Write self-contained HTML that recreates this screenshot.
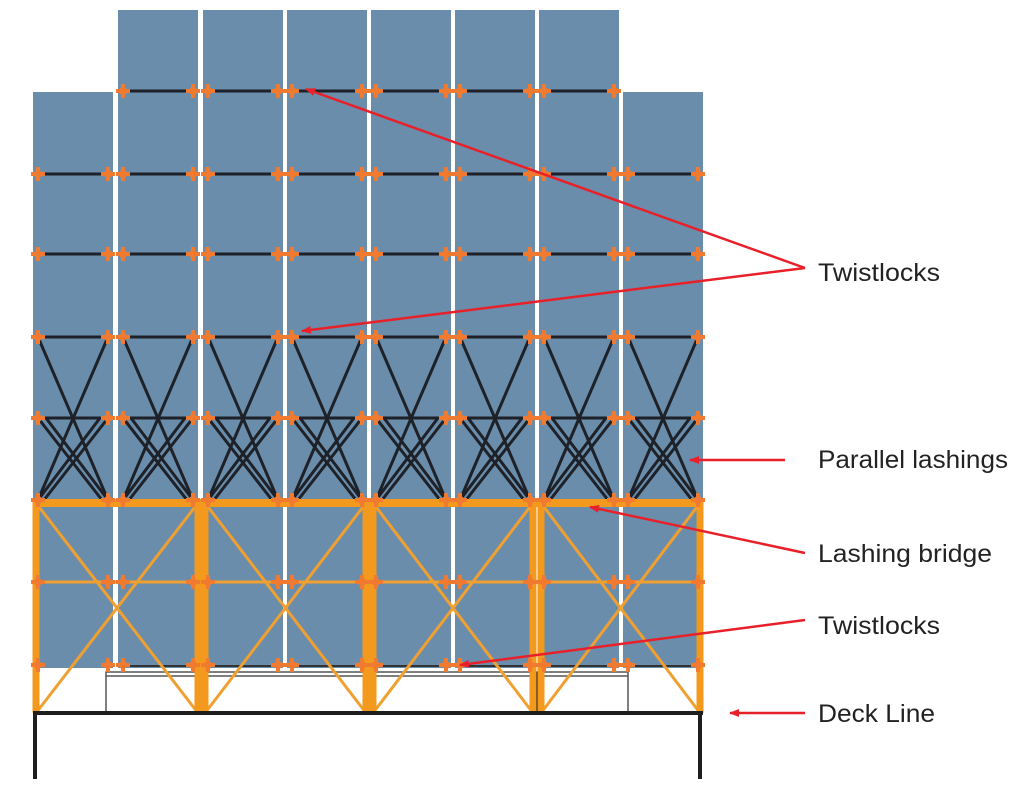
<!DOCTYPE html>
<html><head><meta charset="utf-8"><style>
html,body{margin:0;padding:0;background:#fff;width:1024px;height:789px;overflow:hidden}
svg text{font-family:"Liberation Sans",sans-serif;font-size:25px;fill:#222}
</style></head><body>
<svg id="s" width="1024" height="789" xmlns="http://www.w3.org/2000/svg">
<defs><marker id="ah" markerWidth="10" markerHeight="8" refX="9" refY="4" orient="auto" markerUnits="userSpaceOnUse"><path d="M0,0 L10,4 L0,8 z" fill="#e8202a"/></marker></defs>
<g id="g"></g>
<text x="818" y="281" textLength="122" lengthAdjust="spacingAndGlyphs">Twistlocks</text>
<text x="818" y="468" textLength="190" lengthAdjust="spacingAndGlyphs">Parallel lashings</text>
<text x="818" y="562" textLength="174" lengthAdjust="spacingAndGlyphs">Lashing bridge</text>
<text x="818" y="634" textLength="122" lengthAdjust="spacingAndGlyphs">Twistlocks</text>
<text x="818" y="722" textLength="117" lengthAdjust="spacingAndGlyphs">Deck Line</text>
</svg>
<script>
var g=document.getElementById('g'),h='';
function L(x1,y1,x2,y2,c,w){h+='<line x1="'+x1+'" y1="'+y1+'" x2="'+x2+'" y2="'+y2+'" stroke="'+c+'" stroke-width="'+w+'"/>';}
var cols=[33,118,203,287,371,455,539,623],W=80;
cols.forEach(function(x,i){var top=(i==0||i==7)?92:10;h+='<rect x="'+x+'" y="'+top+'" width="'+W+'" height="'+(668-top)+'" fill="#6a8dab"/>';});
// support structure
h+='<rect x="106" y="672" width="522" height="42" fill="none" stroke="#555" stroke-width="1.5"/>';
L(106,676,628,676,'#555',1.5);
L(130,666,703,666,'#333',2);
[200,367,535].forEach(function(x){L(x,672,x,713,'#222',5);});
// black horizontal lines and lashings
cols.forEach(function(x,i){
 var a=x+5,b=x+W-5;
 var rows=(i==0||i==7)?[174,254,337,418]:[91,174,254,337,418];
 rows.forEach(function(y){L(a,y,b,y,'#1e2128',3);});
 L(a,337,b,500,'#1e2128',3);L(b,337,a,500,'#1e2128',3);
 L(a,418,b-6,500,'#1e2128',3);L(b,418,a+6,500,'#1e2128',3);
 L(a+8,418,b,500,'#1e2128',3);L(b-8,418,a,500,'#1e2128',3);
});
// lashing bridge
var bays=[[36,198],[205,366],[373,533],[541,700]];
bays.forEach(function(b){
 L(b[0],503,b[1],713,'#f0a030',3);L(b[1],503,b[0],713,'#f0a030',3);
 L(b[0],582,b[1],582,'#f0a030',3);
});
[36,198,205,366,373,533,541,700].forEach(function(x){L(x,500,x,713,'#f39a1e',7);});
L(33,503,703,503,'#f39a1e',8);
// twistlocks
function T(x,y){L(x-7,y,x+7,y,'#f07a30',4);L(x,y-7,x,y+7,'#f07a30',4);h+='<circle cx="'+x+'" cy="'+y+'" r="4" fill="#f07a30"/>';}
cols.forEach(function(x,i){
 var rows=(i==0||i==7)?[174,254,337,418,500,582,665]:[91,174,254,337,418,500,582,665];
 rows.forEach(function(y){T(x+5,y);T(x+W-5,y);});
});
// deck
L(33,713,703,713,'#1e1e1e',4);L(35,713,35,779,'#1e1e1e',4);L(700,713,700,779,'#1e1e1e',4);
// arrows
function A(x1,y1,x2,y2){h+='<line x1="'+x1+'" y1="'+y1+'" x2="'+x2+'" y2="'+y2+'" stroke="#e8202a" stroke-width="2.5" marker-end="url(#ah)"/>';}
A(805,268,306,89);A(805,268,302,331);A(785,460,690,460);A(805,553,590,507);A(805,620,460,665);A(805,713,730,713);
g.innerHTML=h;
</script>
</body></html>
